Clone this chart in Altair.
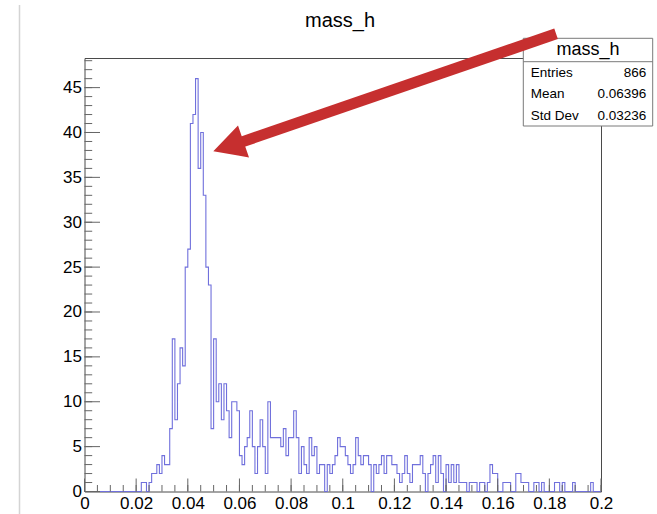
import altair as alt
import pandas as pd

# ---------------- data ----------------
chart_title = "mass_h"
bin_low_edges = [round(0.001 * i, 3) for i in range(200)]   # 200 bins of width 0.001 on [0, 0.2]
bin_counts = [
    0, 0, 0, 0, 0, 0, 0, 0, 0, 0,
    0, 0, 0, 0, 0, 0, 0, 0, 0, 0,
    0, 0, 1, 1, 0, 1, 2, 2, 3, 2,
    4, 3, 3, 7, 17, 8, 12, 16, 14, 25,
    27, 41, 42, 46, 36, 40, 33, 25, 23, 7,
    17, 10, 12, 8, 12, 9, 6, 10, 10, 9,
    4, 3, 5, 6, 9, 5, 2, 5, 8, 5,
    2, 10, 6, 6, 6, 6, 5, 7, 4, 6,
    6, 9, 6, 2, 5, 3, 2, 6, 4, 5,
    2, 3, 3, 0, 3, 2, 3, 4, 6, 5,
    5, 4, 3, 2, 3, 6, 4, 3, 4, 4,
    3, 0, 3, 2, 3, 4, 2, 4, 4, 3,
    3, 2, 1, 2, 4, 2, 1, 3, 3, 3,
    4, 2, 0, 2, 3, 4, 1, 4, 2, 0,
    3, 1, 3, 1, 3, 1, 1, 1, 0, 1,
    1, 1, 0, 1, 1, 0, 1, 3, 2, 2,
    0, 0, 1, 1, 1, 0, 0, 2, 2, 1,
    1, 1, 0, 0, 1, 1, 0, 1, 0, 0,
    0, 0, 1, 1, 0, 1, 0, 0, 0, 1,
    0, 0, 0, 0, 0, 0, 1, 0, 0, 0,
]
x_upper = 0.2
y_upper = 48.3

x_tick_values = [0, 0.02, 0.04, 0.06, 0.08, 0.1, 0.12, 0.14, 0.16, 0.18, 0.2]
x_minor_values = [round(0.005 * k, 3) for k in range(41)]
y_tick_values = [0, 5, 10, 15, 20, 25, 30, 35, 40, 45]
y_minor_values = list(range(0, 49))

stats_title = "mass_h"
stats_names = ["Entries", "Mean", "Std Dev"]
stats_values = ["866", "0.06396", "0.03236"]

# annotation arrow, in data units
arrow_shaft_x = [0.0605, 0.1826]
arrow_shaft_y = [38.9, 51.0]
arrow_head_x = [0.04988, 0.05944, 0.06370]
arrow_head_y = [37.9, 40.78, 37.22]
arrow_head_y2 = [37.9, 37.43, 37.22]

# ---------------- layout / style ----------------
W, H = 516.5, 433.5
FONT = "Liberation Sans"
TICK = "#666666"
HIST = "#7070dc"
RED = "#c62f2f"

x_scale = alt.Scale(domain=[0, x_upper], nice=False, zero=False)
y_scale = alt.Scale(domain=[0, y_upper], nice=False, zero=False)

hist_df = pd.DataFrame({
    "x": bin_low_edges + [x_upper],
    "y": bin_counts + [bin_counts[-1]],
})

x_axis = alt.Axis(values=x_tick_values, format="~g", ticks=False, domain=False, grid=False,
                  labelFont=FONT, labelFontSize=17, labelColor="black", labelPadding=4,
                  labelFlush=False, labelOverlap=False, labelBound=False, title=None)
y_axis = alt.Axis(values=y_tick_values, format="d", ticks=False, domain=False, grid=False,
                  labelFont=FONT, labelFontSize=17, labelColor="black", labelPadding=3,
                  labelOverlap=False, labelBound=False, title=None)

hist = alt.Chart(hist_df).mark_line(interpolate="step-after", color=HIST, strokeWidth=1.1).encode(
    x=alt.X("x:Q", scale=x_scale, axis=x_axis),
    y=alt.Y("y:Q", scale=y_scale, axis=y_axis),
)

ymaj = alt.Chart(pd.DataFrame({"y": y_tick_values})).mark_rule(color=TICK, strokeWidth=1).encode(
    y=alt.Y("y:Q", scale=y_scale), x=alt.value(0), x2=alt.value(15.5))
ymin = alt.Chart(pd.DataFrame({"y": y_minor_values})).mark_rule(color=TICK, strokeWidth=1).encode(
    y=alt.Y("y:Q", scale=y_scale), x=alt.value(0), x2=alt.value(7.7))
xmaj = alt.Chart(pd.DataFrame({"x": x_tick_values})).mark_rule(color=TICK, strokeWidth=1).encode(
    x=alt.X("x:Q", scale=x_scale), y=alt.value(H), y2=alt.value(H - 13))
xmin = alt.Chart(pd.DataFrame({"x": x_minor_values})).mark_rule(color=TICK, strokeWidth=1).encode(
    x=alt.X("x:Q", scale=x_scale), y=alt.value(H), y2=alt.value(H - 6.5))

one = pd.DataFrame({"t": [chart_title]})
title = alt.Chart(one).mark_text(font=FONT, fontSize=20, color="black", align="center",
                                 baseline="middle").encode(
    text="t:N", x=alt.value(255.5), y=alt.value(-37))

edge_line = alt.Chart(one).mark_rule(color="#d4d4d4", strokeWidth=1.5).encode(
    x=alt.value(-65), y=alt.value(-53), y2=alt.value(H + 25))

# stats box
BX0, BX1, BY0, BY1, BDIV = 438.8, 568.2, -19.7, 68.0, 3.7
box = alt.Chart(one).mark_rect(fill="white", stroke="#7a7a7a", strokeWidth=1).encode(
    x=alt.value(BX0), x2=alt.value(BX1), y=alt.value(BY0), y2=alt.value(BY1))
divider = alt.Chart(one).mark_rule(color="#7a7a7a", strokeWidth=1).encode(
    x=alt.value(BX0), x2=alt.value(BX1), y=alt.value(BDIV))
box_title = alt.Chart(pd.DataFrame({"t": [stats_title]})).mark_text(
    font=FONT, fontSize=18, color="black", align="center", baseline="middle").encode(
    text="t:N", x=alt.value((BX0 + BX1) / 2), y=alt.value(-8))

row_y = [14.5, 35.5, 57.5]
stat_layers = []
for name, val, ry in zip(stats_names, stats_values, row_y):
    stat_layers.append(alt.Chart(pd.DataFrame({"t": [name]})).mark_text(
        font=FONT, fontSize=13.5, color="black", align="left", baseline="middle").encode(
        text="t:N", x=alt.value(BX0 + 7.5), y=alt.value(ry)))
    stat_layers.append(alt.Chart(pd.DataFrame({"t": [val]})).mark_text(
        font=FONT, fontSize=13.5, color="black", align="right", baseline="middle").encode(
        text="t:N", x=alt.value(BX1 - 6.5), y=alt.value(ry)))

# arrow
shaft = alt.Chart(pd.DataFrame({"x": arrow_shaft_x, "y": arrow_shaft_y})).mark_line(
    color=RED, strokeWidth=11, strokeCap="butt", clip=False).encode(
    x=alt.X("x:Q", scale=x_scale), y=alt.Y("y:Q", scale=y_scale))
head = alt.Chart(pd.DataFrame({"x": arrow_head_x, "y": arrow_head_y, "y2": arrow_head_y2})).mark_area(
    color=RED, opacity=1, clip=False).encode(
    x=alt.X("x:Q", scale=x_scale), y=alt.Y("y:Q", scale=y_scale),
    y2="y2:Q")

chart = alt.layer(
    hist, edge_line, ymin, ymaj, xmin, xmaj, title, box, divider, box_title, *stat_layers, shaft, head
).properties(
    width=W, height=H,
    padding={"left": 84.5, "top": 58, "right": 657 - 84.5 - W, "bottom": 514 - 58 - H},
    autosize=alt.AutoSizeParams(type="none"),
    background="white",
).configure_view(stroke="#4a4a4a", strokeWidth=1)

chart.save("out.html", embed_options={"renderer": "svg", "actions": False})
